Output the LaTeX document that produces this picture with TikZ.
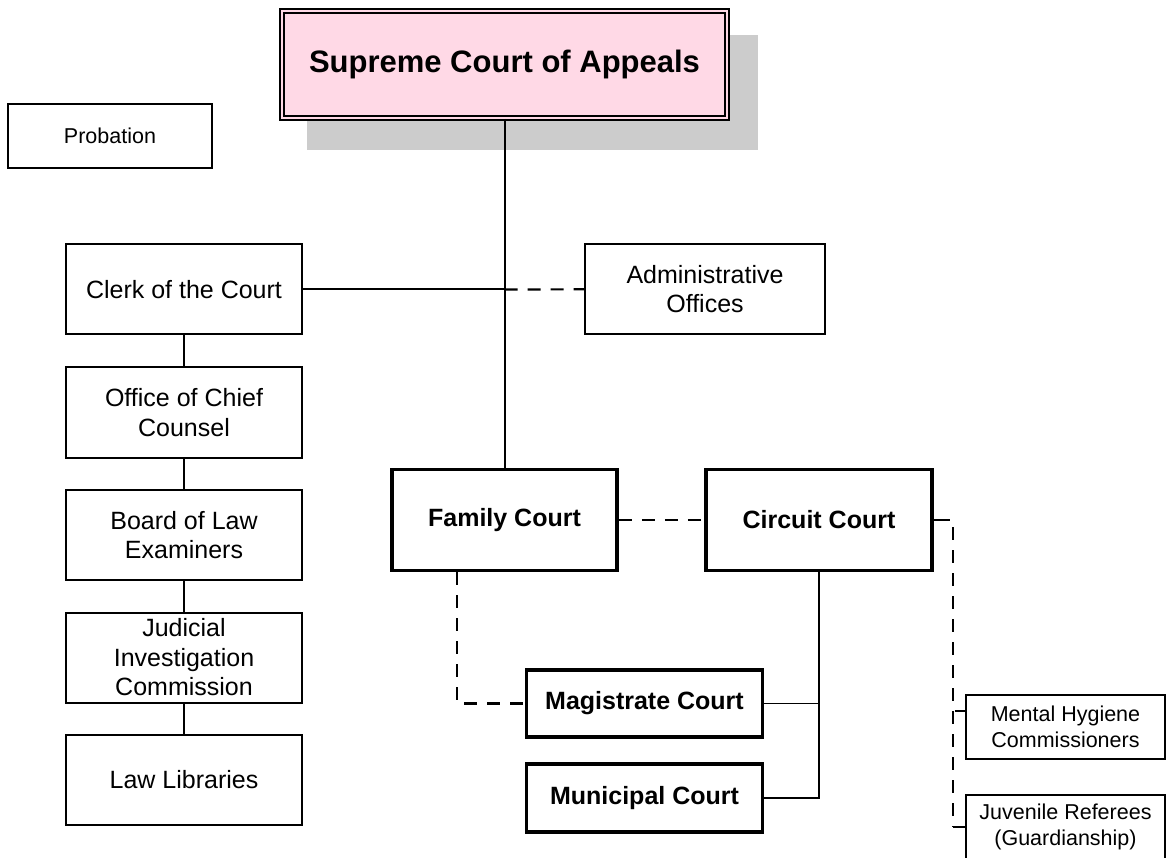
\documentclass[tikz,border=0pt]{standalone}
\usepackage{fontspec}
\setmainfont{Liberation Sans}
\definecolor{appealpink}{RGB}{255,217,230}
\definecolor{shadowgray}{RGB}{204,204,204}

\begin{document}
\begin{tikzpicture}[x=1pt,y=-1pt,line width=2pt]
    \tikzstyle{office}=[draw,line width=2pt,align=center,inner sep=0pt,
        font=\fontsize{25}{29.5}\selectfont,minimum width=236pt,minimum height=90pt]
    \tikzstyle{small}=[office,font=\fontsize{21.5}{26}\selectfont,minimum height=64pt]
    \tikzstyle{court}=[office,line width=3.5pt,font=\bfseries\fontsize{25}{30}\selectfont]
    \tikzstyle{dotted link}=[line width=2.2pt,dash pattern=on 13pt off 10pt]
    \useasboundingbox (0,0) rectangle (1167,858);

    % top of the chart
    \fill[shadowgray] (307,35) rectangle (758,150);
    \node[draw,double=appealpink,double distance=2.5pt,line width=2pt,fill=appealpink,
        minimum width=445pt,minimum height=107pt,inner sep=0pt,
        font=\bfseries\fontsize{31}{36}\selectfont] (supreme) at (504.5,64.5) {Supreme Court of Appeals};

    \node[small,minimum width=204pt] (probation) at (110,136) {Probation};

    % left column
    \foreach \name/\y/\txt in {clerk/289.5/Clerk of the Court,
                               counsel/412.5/{Office of Chief\\Counsel},
                               examiners/535/{Board of Law\\Examiners},
                               jic/657.5/{Judicial\\Investigation\\Commission},
                               libraries/780/Law Libraries}
        \node[office] (\name) at (184,\y) {\txt};

    \foreach \from/\to in {clerk/counsel,counsel/examiners,examiners/jic,jic/libraries}
        \draw (\from) -- (\to);

    \node[office,minimum width=240pt] (admin) at (705,289) {Administrative\\Offices};

    % courts
    \node[court,minimum width=225pt,minimum height=101pt] (family) at (504.5,520) {Family Court};
    \node[court,minimum width=226pt,minimum height=101pt] (circuit) at (819,520) {Circuit Court};
    \node[court,minimum height=67pt] (magistrate) at (644.5,703.5) {Magistrate Court};
    \node[court,minimum height=68pt] (municipal) at (644.5,798) {Municipal Court};

    \node[small,minimum width=199pt] (mental) at (1065.5,727) {Mental Hygiene\\Commissioners};
    \node[small,minimum width=199pt] (juvenile) at (1065.5,827) {Juvenile Referees\\(Guardianship)};

    \coordinate (hub) at (supreme.south |- clerk.east);
    \draw (supreme) -- (family);
    \draw (clerk) -- (hub);
    \draw[dotted link] (hub) -- (admin);
    \draw[dotted link] (family) -- (circuit);

    \coordinate (fm) at ([xshift=67pt]family.south west);
    \draw[dotted link] (fm) |- (magistrate.west);
    \draw[line width=1.5pt] (circuit.south) |- (municipal.east);
    \draw[line width=1.5pt] (magistrate.east) -- (magistrate.east -| circuit.south);

    % side rail to the commissioners
    \coordinate (railtop) at ([xshift=16pt]circuit.east);
    \coordinate (rail) at ([xshift=19pt,yshift=-7pt]circuit.east);
    \coordinate (mhtick) at ([yshift=16pt]mental.west);
    \draw (circuit.east) -- (railtop);
    \draw[dotted link] (rail) -- (rail |- juvenile.west);
    \draw ([xshift=-10pt]mhtick) -- (mhtick);
    \draw (rail |- juvenile.west) -- (juvenile.west);
\end{tikzpicture}
\end{document}
